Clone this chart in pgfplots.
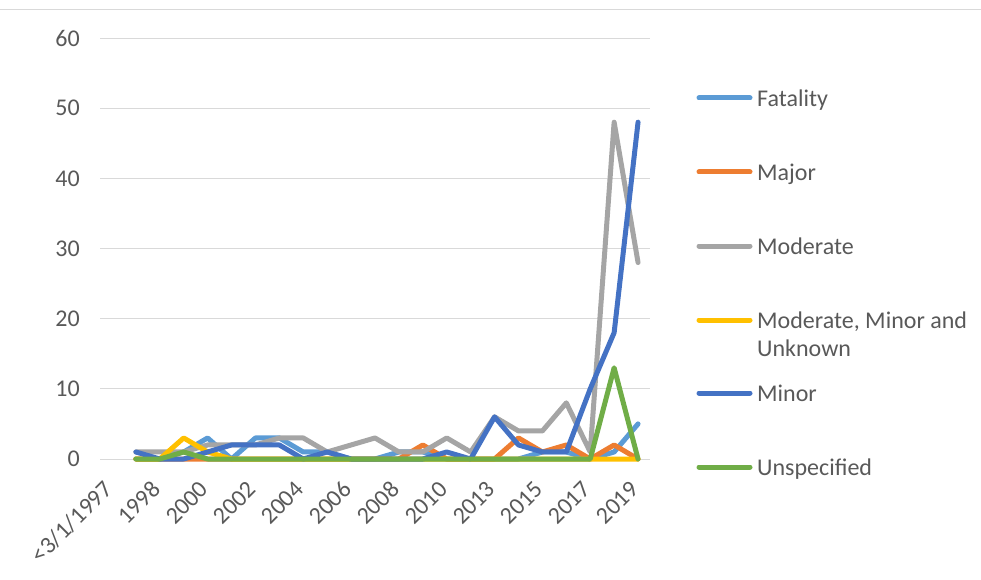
\documentclass[border=0pt]{standalone}
\usepackage{pgfplots}
\pgfplotsset{compat=1.18}
\usepackage{fontspec}
\setmainfont{Carlito}
\definecolor{cFat}{HTML}{5B9BD5}
\definecolor{cMaj}{HTML}{ED7D31}
\definecolor{cMod}{HTML}{A5A5A5}
\definecolor{cMMU}{HTML}{FFC000}
\definecolor{cMin}{HTML}{4472C4}
\definecolor{cUns}{HTML}{70AD47}
\definecolor{txt}{HTML}{595959}
\definecolor{gridc}{HTML}{D9D9D9}
\begin{document}
\begin{tikzpicture}[x=1pt,y=1pt]
\useasboundingbox (0,0) rectangle (981,579);
\draw[gridc, line width=1pt] (0,569) -- (981,569);
\begin{axis}[
  at={(100pt,120pt)}, anchor=south west,
  scale only axis, width=550pt, height=421pt,
  xmin=-0.5, xmax=22.5, ymin=0, ymax=60,
  ytick={0,10,...,60},
  xtick={0,2,...,22},
  xticklabels={<3/1/1997,1998,2000,2002,2004,2006,2008,2010,2013,2015,2017,2019},
  axis line style={draw=none},
  major tick length=0pt,
  ymajorgrids, grid style={gridc, line width=1pt},
  tick label style={font=\fontsize{24}{28}\selectfont, text=txt},
  yticklabel style={anchor=east, inner sep=0pt, xshift=-20pt},
  xticklabel style={inner sep=0pt, xshift=2pt, yshift=-32pt, rotate=45, anchor=base east},
  /pgf/number format/assume math mode=true,
  every axis plot/.append style={line width=5pt, line join=round, line cap=round},
  clip=false,
]
% Fatality
\addplot[cFat] coordinates {(1,0)(2,0)(3,1)(4,3)(5,0)(6,3)(7,3)(8,1)(9,1)(10,0)(11,0)(12,1)(13,1)(14,0)(15,0)(16,0)(17,0)(18,1)(19,1)(20,0)(21,1)(22,5)};
% Major
\addplot[cMaj] coordinates {(1,0)(2,0)(3,0)(4,0)(5,0)(6,0)(7,0)(8,0)(9,0)(10,0)(11,0)(12,0)(13,2)(14,0)(15,0)(16,0)(17,3)(18,1)(19,2)(20,0)(21,2)(22,0)};
% Moderate
\addplot[cMod] coordinates {(1,1)(2,1)(3,1)(4,2)(5,2)(6,2)(7,3)(8,3)(9,1)(10,2)(11,3)(12,1)(13,1)(14,3)(15,1)(16,6)(17,4)(18,4)(19,8)(20,1)(21,48)(22,28)};
% Moderate, Minor and Unknown
\addplot[cMMU] coordinates {(1,0)(2,0)(3,3)(4,1)(5,0)(6,0)(7,0)(8,0)(9,0)(10,0)(11,0)(12,0)(13,0)(14,0)(15,0)(16,0)(17,0)(18,0)(19,0)(20,0)(21,0)(22,0)};
% Minor
\addplot[cMin] coordinates {(1,1)(2,0)(3,0)(4,1)(5,2)(6,2)(7,2)(8,0)(9,1)(10,0)(11,0)(12,0)(13,0)(14,1)(15,0)(16,6)(17,2)(18,1)(19,1)(20,10)(21,18)(22,48)};
% Unspecified
\addplot[cUns] coordinates {(1,0)(2,0)(3,1)(4,0)(5,0)(6,0)(7,0)(8,0)(9,0)(10,0)(11,0)(12,0)(13,0)(14,0)(15,0)(16,0)(17,0)(18,0)(19,0)(20,0)(21,13)(22,0)};
\end{axis}
% legend
\begin{scope}[every node/.style={anchor=base west, text=txt, inner sep=0pt, font=\fontsize{24}{28}\selectfont}]
\draw[cFat, line width=5pt, line cap=round] (699,481) -- (750,481);
\node at (757,472.2) {Fatality};
\draw[cMaj, line width=5pt, line cap=round] (699,407) -- (750,407);
\node at (757,398.2) {Major};
\draw[cMod, line width=5pt, line cap=round] (699,333) -- (750,333);
\node at (757,324.2) {Moderate};
\draw[cMMU, line width=5pt, line cap=round] (699,259) -- (750,259);
\node at (757,250.2) {Moderate, Minor and};
\node at (757,222.2) {Unknown};
\draw[cMin, line width=5pt, line cap=round] (699,186) -- (750,186);
\node at (757,177.2) {Minor};
\draw[cUns, line width=5pt, line cap=round] (699,112) -- (750,112);
\node at (757,103.2) {Unspecified};
\end{scope}
\end{tikzpicture}
\end{document}
